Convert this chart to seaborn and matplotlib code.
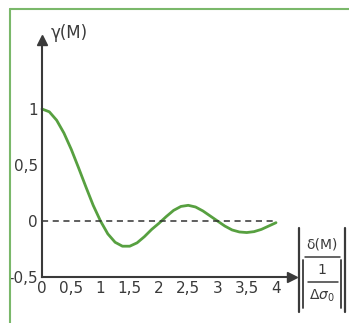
import numpy as np
import pandas as pd
import matplotlib
matplotlib.use("Agg")
import matplotlib.pyplot as plt
import seaborn as sns
from matplotlib.lines import Line2D

# values
x_vals = [0, 0.125, 0.25, 0.375, 0.5, 0.625, 0.75, 0.875, 1.0, 1.125, 1.25, 1.375,
          1.5, 1.625, 1.75, 1.875, 2.0, 2.125, 2.25, 2.375, 2.5, 2.625, 2.75, 2.875,
          3.0, 3.125, 3.25, 3.375, 3.5, 3.625, 3.75, 3.875, 4.0]
gamma_vals = [1.0, 0.975, 0.90, 0.785, 0.64, 0.475, 0.305, 0.14, 0.0, -0.115, -0.19,
              -0.225, -0.225, -0.195, -0.14, -0.075, -0.02, 0.04, 0.095, 0.13, 0.14,
              0.125, 0.09, 0.045, 0.0, -0.045, -0.08, -0.098, -0.103, -0.095, -0.075,
              -0.045, -0.015]
x_ticks = [0, 0.5, 1, 1.5, 2, 2.5, 3, 3.5, 4]
x_tick_labels = ["0", "0,5", "1", "1,5", "2", "2,5", "3", "3,5", "4"]
y_ticks = [-0.5, 0, 0.5, 1]
y_tick_labels = ["-0,5", "0", "0,5", "1"]

df = pd.DataFrame({"x": x_vals, "gamma": gamma_vals})

sns.set_style("white")
plt.rcParams['font.family'] = ['DejaVu Sans']

W, H = 349, 323
fig = plt.figure(figsize=(W / 100, H / 100), dpi=100)
ax = fig.add_axes([0, 0, 1, 1])
ax.patch.set_alpha(0)

# pixel mapping: x=0 at px 42, 58.5 px per unit; y=0 at px 221 (from top), 112 px per unit
x0, sx = 42, 58.5
y0, sy = 221, 112
ax.set_xlim(-x0 / sx, (W - x0) / sx)
ax.set_ylim(-(H - y0) / sy, y0 / sy)

ink = "#3a3a3a"
green = "#57a040"

sns.lineplot(data=df, x="x", y="gamma", ax=ax, color=green, lw=2.0)
ax.plot([0, 4], [0, 0], color="#333333", lw=1.1, ls=(0, (4, 3)))

# axes as spines with arrows
for s in ["top", "right"]:
    ax.spines[s].set_visible(False)
ax.spines["left"].set_position(("data", 0))
ax.spines["bottom"].set_position(("data", -0.5))
ax.spines["left"].set_bounds(-0.5, 1.55)
ax.spines["bottom"].set_bounds(0, 4.2)
for s in ["left", "bottom"]:
    ax.spines[s].set_color(ink)
    ax.spines[s].set_linewidth(1.5)
ax.plot(0, 1.62, marker="^", color=ink, ms=7, clip_on=False)
ax.plot(4.28, -0.5, marker=">", color=ink, ms=7, clip_on=False)

ax.set_xticks(x_ticks)
ax.set_xticklabels(x_tick_labels)
ax.set_yticks(y_ticks)
ax.set_yticklabels(y_tick_labels)
ax.tick_params(axis="x", direction="inout", length=4, width=1, color=ink,
               labelsize=11, labelcolor=ink, pad=1)
ax.tick_params(axis="y", direction="out", length=2, width=1, color=ink,
               labelsize=11, labelcolor=ink, pad=1)
ax.set_xlabel("")
ax.set_ylabel("")

ax.text(0.15, 1.68, "γ(M)", fontsize=12, color=ink, ha="left", va="center")


# unit label on the right, built in pixel coords
def fx(px):
    return px / W


def fy(py):
    return 1 - py / H


def seg(xa, ya, xb, yb, lw=1.3):
    fig.add_artist(Line2D([fx(xa), fx(xb)], [fy(ya), fy(yb)], transform=fig.transFigure,
                          color=ink, lw=lw))


fig.text(fx(322), fy(245), "δ(M)", fontsize=10, color=ink, ha="center", va="center")
seg(305, 257, 340, 257, 1.1)
fig.text(fx(322), fy(270), "1", fontsize=10, color=ink, ha="center", va="center")
seg(308, 282, 338, 282, 1.1)
fig.text(fx(322), fy(296), r"$\Delta\sigma_0$", fontsize=10, color=ink, ha="center", va="center")
seg(299, 228, 299, 312, 1.6)
seg(303, 260, 303, 308, 1.3)
seg(345, 228, 345, 312, 1.6)
seg(341, 260, 341, 308, 1.3)

# green frame
fig.add_artist(Line2D([10 / W, 10 / W], [0, 1 - 9 / H], transform=fig.transFigure,
                      color="#7ab86a", lw=1.5))
fig.add_artist(Line2D([10 / W, 1], [1 - 9 / H, 1 - 9 / H], transform=fig.transFigure,
                      color="#7ab86a", lw=1.5))

fig.savefig("out.png", dpi=100)
